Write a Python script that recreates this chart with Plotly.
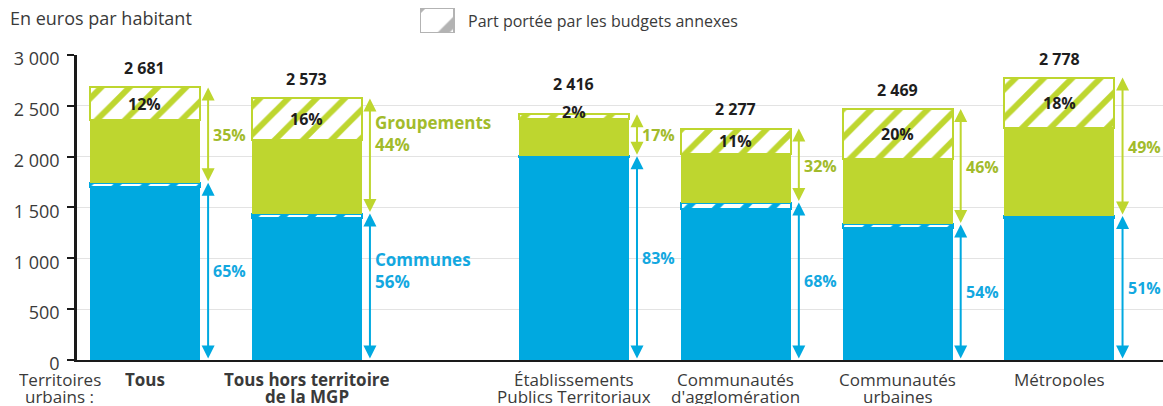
import plotly.graph_objects as go

# valeurs (euros par habitant)
categories = [
    "<b>Tous</b>",
    "<b>Tous hors territoire</b><br><b>de la MGP</b>",
    "Établissements<br>Publics Territoriaux",
    "Communautés<br>d'agglomération",
    "Communautés<br>urbaines",
    "Métropoles",
]
communes = [1703, 1401, 1993, 1488, 1303, 1392]
communes_annexes = [40, 40, 12, 60, 30, 25]
groupements = [616, 720, 363, 479, 642, 861]
groupements_annexes = [322, 412, 48, 250, 494, 500]
totals = [2681, 2573, 2416, 2277, 2469, 2778]
part_communes = [65, 56, 83, 68, 54, 51]
part_groupements = [35, 44, 17, 32, 46, 49]
part_annexes = [12, 16, 2, 11, 20, 18]

BLUE = "#00a9e0"
GREEN = "#bed62f"
GREEN_TXT = "#a2bb2b"
BLUE_TXT = "#13a8e0"
GREY_TXT = "#3a3a3a"
FONT = "Open Sans"

# une colonne vide entre les deux premiers groupes et les autres
xs = [i + (0.65 if i >= 2 else 0) for i in range(len(categories))]
BAR_W = 0.68
ARROW_DX = 0.39


def fmt(v):
    return f"{v:,}".replace(",", " ")


fig = go.Figure()

segments = [
    (communes, BLUE, None),
    (communes_annexes, BLUE, "hatch"),
    (groupements, GREEN, None),
    (groupements_annexes, GREEN, "hatch"),
]
for vals, col, kind in segments:
    if kind == "hatch":
        marker = dict(color=col, line=dict(color=col, width=2),
                      pattern=dict(shape="/", fgcolor=col, bgcolor="white",
                                   fillmode="replace", fgopacity=1,
                                   size=20, solidity=0.3))
    else:
        marker = dict(color=col, line=dict(width=0))
    fig.add_trace(go.Bar(x=xs, y=vals, width=BAR_W, marker=marker,
                         showlegend=False, hoverinfo="skip"))

# petite case de légende hachurée
fig.add_trace(go.Bar(x=[0], y=[1], width=1, xaxis="x2", yaxis="y2",
                     marker=dict(color="#b3b3b3", line=dict(color="#b3b3b3", width=2.5),
                                 pattern=dict(shape="/", fgcolor="#b3b3b3", bgcolor="white",
                                              fillmode="replace", fgopacity=1,
                                              size=34, solidity=0.25)),
                     showlegend=False, hoverinfo="skip"))

annotations = []
for i, x in enumerate(xs):
    top_comm = communes[i] + communes_annexes[i]
    top_grp_solid = top_comm + groupements[i]
    thin = part_annexes[i] < 5

    # total au-dessus de la barre
    annotations.append(dict(x=x, y=totals[i], text=f"<b>{fmt(totals[i])}</b>",
                            showarrow=False, yanchor="bottom",
                            yshift=17 if thin else 6,
                            font=dict(size=16, color="#1e1e1e")))
    # part des budgets annexes
    annotations.append(dict(x=x, y=top_grp_solid + groupements_annexes[i] / 2,
                            text=f"<b>{part_annexes[i]}%</b>", showarrow=False,
                            yanchor="middle", yshift=5 if thin else 0,
                            font=dict(size=16, color="#1e1e1e")))

    ax = x + ARROW_DX
    # flèches doubles
    annotations.append(dict(x=ax, y=totals[i], ax=ax, ay=top_comm, xref="x", yref="y",
                            axref="x", ayref="y", text="", showarrow=True,
                            arrowside="end+start", arrowhead=2, arrowsize=1.3,
                            arrowwidth=2, arrowcolor=GREEN))
    annotations.append(dict(x=ax, y=top_comm, ax=ax, ay=0, xref="x", yref="y",
                            axref="x", ayref="y", text="", showarrow=True,
                            arrowside="end+start", arrowhead=2, arrowsize=1.3,
                            arrowwidth=2, arrowcolor=BLUE))

    if i == 1:
        g_txt = f"<b>Groupements<br>{part_groupements[i]}%</b>"
        c_txt = f"<b>Communes<br>{part_communes[i]}%</b>"
        g_shift, c_shift, size = 22, 16, 17
    else:
        g_txt = f"<b>{part_groupements[i]}%</b>"
        c_txt = f"<b>{part_communes[i]}%</b>"
        g_shift, c_shift, size = 0, 0, 16
    annotations.append(dict(x=ax, y=(top_comm + totals[i]) / 2, text=g_txt,
                            showarrow=False, xanchor="left", yanchor="middle",
                            align="left", xshift=3, yshift=g_shift,
                            font=dict(size=size, color=GREEN_TXT)))
    annotations.append(dict(x=ax, y=top_comm / 2, text=c_txt,
                            showarrow=False, xanchor="left", yanchor="middle",
                            align="left", xshift=3, yshift=c_shift,
                            font=dict(size=size, color=BLUE_TXT)))

    # libellés de catégorie, interligne serré
    for j, line in enumerate(categories[i].split("<br>")):
        annotations.append(dict(x=x, y=0, xref="x", yref="paper", text=line,
                                showarrow=False, xanchor="center", yanchor="middle",
                                height=16, borderpad=0, yshift=-19 - 17 * j,
                                font=dict(size=17, color=GREY_TXT)))

for j, line in enumerate(["Territoires", "urbains :"]):
    annotations.append(dict(xref="paper", yref="paper", x=-0.0157, y=0,
                            xanchor="center", yanchor="middle",
                            height=16, borderpad=0,
                            yshift=-19 - 17 * j, text=line, showarrow=False,
                            font=dict(size=17, color=GREY_TXT)))

annotations += [
    dict(xref="paper", yref="paper", x=-0.0635, y=0.963, xanchor="left",
         yanchor="middle", text="En euros par habitant", showarrow=False,
         font=dict(size=18, color=GREY_TXT)),
    dict(xref="paper", yref="paper", x=0.348, y=0.956, xanchor="left",
         yanchor="middle", xshift=11,
         text="Part portée par les budgets annexes", showarrow=False,
         font=dict(size=16, color=GREY_TXT)),
]

fig.update_layout(
    width=1163, height=406,
    margin=dict(l=77, r=0, t=5, b=46),
    barmode="stack",
    bargap=0,
    paper_bgcolor="white", plot_bgcolor="white",
    font=dict(family=FONT, size=16, color=GREY_TXT),
    separators=", ",
    annotations=annotations,
    xaxis=dict(range=[-0.42, 6.29], showticklabels=False, automargin=False,
               showline=True, linecolor="#1a1a1a", linewidth=2,
               showgrid=False, zeroline=False, ticks=""),
    yaxis=dict(domain=[0, 0.8592], range=[0, 3000], dtick=500, automargin=False,
               tickformat=",d", separatethousands=True,
               showline=True, linecolor="#1a1a1a", linewidth=2.5,
               ticks="outside", ticklen=7, tickwidth=2, tickcolor="#1a1a1a",
               ticklabelshift=4, ticklabelstandoff=4,
               showgrid=True, gridcolor="#e3e3e3", gridwidth=1, zeroline=False,
               tickfont=dict(size=18, color=GREY_TXT)),
    xaxis2=dict(domain=[0.3158, 0.348], range=[-0.5, 0.5], anchor="y2",
                visible=False, fixedrange=True),
    yaxis2=dict(domain=[0.921, 0.9915], range=[0, 1], anchor="x2",
                visible=False, fixedrange=True),
)

fig.write_html("out.html", config={"displayModeBar": False},
               post_script="document.body.style.margin='0';")
